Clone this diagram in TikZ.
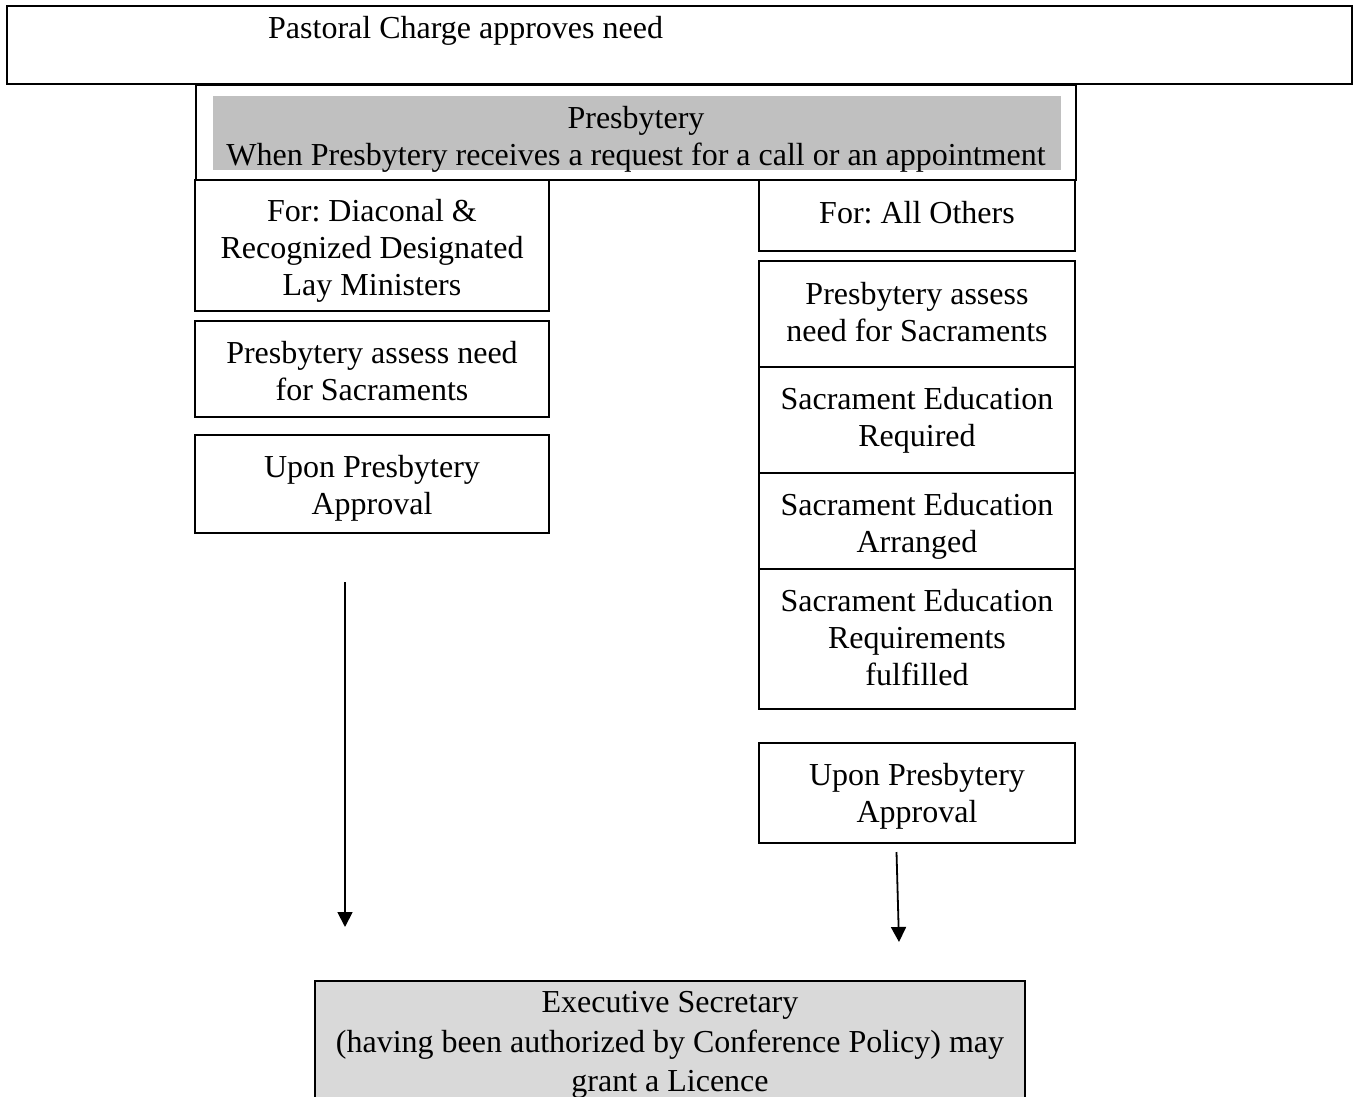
\documentclass[tikz,border=0pt]{standalone}
\usepackage{fontspec}
\setmainfont{Liberation Serif}
\usetikzlibrary{arrows.meta}
\definecolor{presgray}{HTML}{C0C0C0}
\definecolor{execgray}{HTML}{D9D9D9}
\frenchspacing
\newcommand{\mybt}[4]{\parbox[c][#2][t]{#1}{\centering\vspace*{#3}\strut #4\par}}
\tikzset{
  boxed/.style={draw, line width=1.7pt, inner sep=0pt,
    font=\fontsize{32}{37}\selectfont},
  flowarrow/.style={line width=1.8pt, -{Triangle[width=15pt,length=15pt]}},
  txt/.style={inner sep=0pt, align=center, font=\fontsize{32}{37}\selectfont,
    execute at begin node={\strut}, execute at end node={\strut}}
}
\begin{document}
\begin{tikzpicture}[x=1pt,y=-1pt]
\useasboundingbox (0,0) rectangle (1354,1097);
\clip (0,0) rectangle (1354,1097);
% top box
\node[draw, line width=2.2pt, inner sep=0pt, minimum width=1345pt, minimum height=78pt] (charge) at (679.5,45) {};
\node[inner sep=0pt, font=\fontsize{32}{37}\selectfont, anchor=base west] (chargetxt) at (268,39) {Pastoral Charge approves need};
% presbytery
\node[draw, line width=1.7pt, inner sep=0pt, minimum width=880pt, minimum height=95pt] (presb) at (636,132.5) {};
\node[fill=presgray, inner sep=0pt, minimum width=848pt, minimum height=74pt] (presbfill) at (637,133) {};
\node[txt] (presbtxt) at (636,141) {Presbytery\\When Presbytery receives a request for a call or an appointment};
% left column
\node[boxed] (lfor) at (372,245.5) {\mybt{354pt}{131pt}{15.2pt}{For: Diaconal \&\\Recognized Designated\\Lay Ministers}};
\node[boxed] (lassess) at (372,369) {\mybt{354pt}{96pt}{16.1pt}{Presbytery assess need\\for Sacraments}};
\node[boxed] (lupon) at (372,484) {\mybt{354pt}{98pt}{16.6pt}{Upon Presbytery\\Approval}};
% right column
\node[boxed] (rfor) at (917,215.5) {\mybt{316pt}{71pt}{17.4pt}{For: All Others}};
\node[boxed] (rassess) at (917,314) {\mybt{316pt}{106pt}{17.2pt}{Presbytery assess\\need for Sacraments}};
\node[boxed] (rreq) at (917,420) {\mybt{316pt}{106pt}{16.3pt}{Sacrament Education\\Required}};
\node[boxed] (rarr) at (917,521) {\mybt{316pt}{96pt}{16.1pt}{Sacrament Education\\Arranged}};
\node[boxed] (rful) at (917,639) {\mybt{316pt}{140pt}{16.2pt}{Sacrament Education\\Requirements\\fulfilled}};
\node[boxed] (rupon) at (917,793) {\mybt{316pt}{100pt}{16.2pt}{Upon Presbytery\\Approval}};
% bottom
\node[draw, line width=1.7pt, fill=execgray, inner sep=0pt, minimum width=710pt, minimum height=140pt, anchor=north] (exec) at (670,980) {};
\node[txt, font=\fontsize{32}{39.5}\selectfont] (exectxt) at (670,1047.5) {Executive Secretary\\(having been authorized by Conference Policy) may\\grant a Licence};
% arrows
\coordinate (la1) at (345,582);
\coordinate (la2) at (345,927);
\coordinate (ra1) at (896.5,852);
\coordinate (ra2) at (899,942);
\draw[flowarrow] (la1) -- (la2);
\draw[flowarrow] (ra1) -- (ra2);
\end{tikzpicture}
\end{document}
